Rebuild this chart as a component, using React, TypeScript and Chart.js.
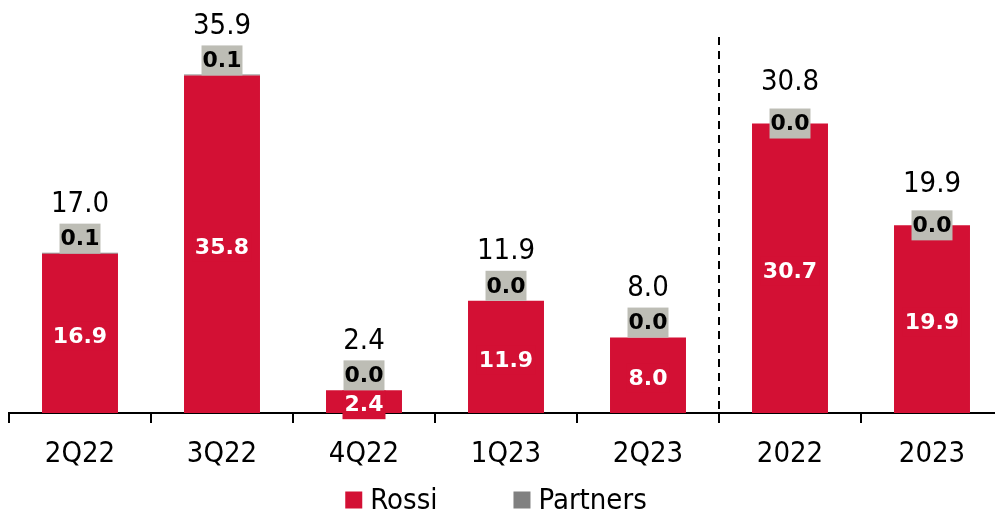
import { useEffect, useRef } from "react";
import { Chart, registerables } from "chart.js";

Chart.register(...registerables);

const categories = ["2Q22", "3Q22", "4Q22", "1Q23", "2Q23", "2022", "2023"];
const rossi = [16.9, 35.8, 2.4, 11.9, 8.0, 30.7, 19.9];
const partners = [0.1, 0.1, 0.0, 0.0, 0.0, 0.0, 0.0];
const totals = [17.0, 35.9, 2.4, 11.9, 8.0, 30.8, 19.9];
const seriesNames = ["Rossi", "Partners"];
const annualStartIndex = 5;

const RED = "#D31034";
const GREY = "#808080";
const BOX = "#BDBDB5";
const FONT = '"DejaVu Sans Condensed", "DejaVu Sans", sans-serif';
const BOLD_FONT = '"DejaVu Sans", sans-serif';
const VIEW_W = 995;
const CANVAS_W = 1004;
const CANVAS_H = 515;

const labelPlugin = {
  id: "customLabels",
  afterDraw(chart: any) {
    const ctx = chart.ctx as CanvasRenderingContext2D;
    const xs = chart.scales.x;
    const area = chart.chartArea;

    ctx.save();
    // dashed separator between quarters and years
    const sepX =
      (xs.getPixelForValue(annualStartIndex - 1) + xs.getPixelForValue(annualStartIndex)) / 2;
    ctx.strokeStyle = "#000";
    ctx.lineWidth = 2;
    ctx.setLineDash([8, 6]);
    ctx.beginPath();
    ctx.moveTo(Math.round(sepX), 37);
    ctx.lineTo(Math.round(sepX), area.bottom);
    ctx.stroke();
    ctx.setLineDash([]);

    ctx.textAlign = "center";
    ctx.textBaseline = "middle";
    const meta = chart.getDatasetMeta(0);
    meta.data.forEach((bar: any, i: number) => {
      const top = bar.y;
      const base = bar.base;
      const cx = bar.x;
      const annual = i >= annualStartIndex;

      // inside label (white on red)
      ctx.font = `bold 22px ${BOLD_FONT}`;
      const txt = rossi[i].toFixed(1);
      const w = ctx.measureText(txt).width;
      const cy = (top + base) / 2 + 3;
      ctx.fillStyle = RED;
      ctx.fillRect(cx - w / 2 - 2, cy - 14.5, w + 4, 29);
      ctx.fillStyle = "#fff";
      ctx.fillText(txt, cx, cy + 1);

      // partners label in grey box
      const by = annual ? top : top - 15;
      const ptxt = partners[i].toFixed(1);
      const pw = ctx.measureText(ptxt).width;
      ctx.fillStyle = BOX;
      ctx.fillRect(cx - pw / 2 - 1, by - 15, pw + 2, 30);
      ctx.fillStyle = "#000";
      ctx.fillText(ptxt, cx, by + 1);

      // total label
      ctx.font = `29px ${FONT}`;
      ctx.fillStyle = "#000";
      ctx.fillText(totals[i].toFixed(1), cx, annual ? top - 41 : top - 49);
    });

    // legend
    ctx.font = `29px ${FONT}`;
    ctx.textAlign = "left";
    const boxSize = 17;
    const gap = 8;
    const itemSpacing = 76;
    const ds = chart.data.datasets;
    const widths = ds.map((d: any) => boxSize + gap + ctx.measureText(d.label).width);
    const total = widths.reduce((a: number, b: number) => a + b, 0) + itemSpacing * (ds.length - 1);
    let lx = 496 - total / 2;
    const ly = 500;
    ds.forEach((d: any, k: number) => {
      ctx.fillStyle = k === 0 ? RED : GREY;
      ctx.fillRect(lx, ly - boxSize / 2, boxSize, boxSize);
      ctx.fillStyle = "#000";
      ctx.fillText(d.label, lx + boxSize + gap, ly + 1);
      lx += widths[k] + itemSpacing;
    });
    ctx.restore();
  },
};

export default function App() {
  const ref = useRef<HTMLCanvasElement | null>(null);

  useEffect(() => {
    if (!ref.current) return;
    const chart = new Chart(ref.current, {
      type: "bar",
      data: {
        labels: categories,
        datasets: [
          {
            label: seriesNames[0],
            data: rossi,
            backgroundColor: RED,
            borderWidth: 0,
          },
          {
            label: seriesNames[1],
            data: partners,
            backgroundColor: GREY,
            borderWidth: 0,
          },
        ],
      },
      options: {
        responsive: false,
        animation: false,
        devicePixelRatio: 1,
        layout: { padding: { left: 9, right: 1, top: 0, bottom: 0 } },
        datasets: {
          bar: { categoryPercentage: 1, barPercentage: 0.535 },
        },
        plugins: {
          legend: { display: false },
          tooltip: { enabled: false },
        },
        scales: {
          x: {
            stacked: true,
            afterFit: (scale: any) => {
              scale.height = 102;
            },
            grid: {
              display: true,
              drawOnChartArea: false,
              drawTicks: true,
              tickLength: 10,
              color: "#000",
              lineWidth: 2,
              offset: true,
            },
            border: { display: true, color: "#000", width: 2 },
            ticks: {
              color: "#000",
              font: { family: FONT, size: 29 },
              padding: 14,
              maxRotation: 0,
              autoSkip: false,
            },
          },
          y: {
            stacked: true,
            display: false,
            min: 0,
            max: 43.8,
          },
        },
      },
      plugins: [labelPlugin],
    });
    return () => chart.destroy();
  }, []);

  return (
    <div
      style={{
        position: "fixed",
        left: 0,
        top: 0,
        width: VIEW_W,
        height: CANVAS_H,
        overflow: "hidden",
        background: "#fff",
      }}
    >
      <canvas ref={ref} width={CANVAS_W} height={CANVAS_H} style={{ width: CANVAS_W, height: CANVAS_H }} />
    </div>
  );
}
